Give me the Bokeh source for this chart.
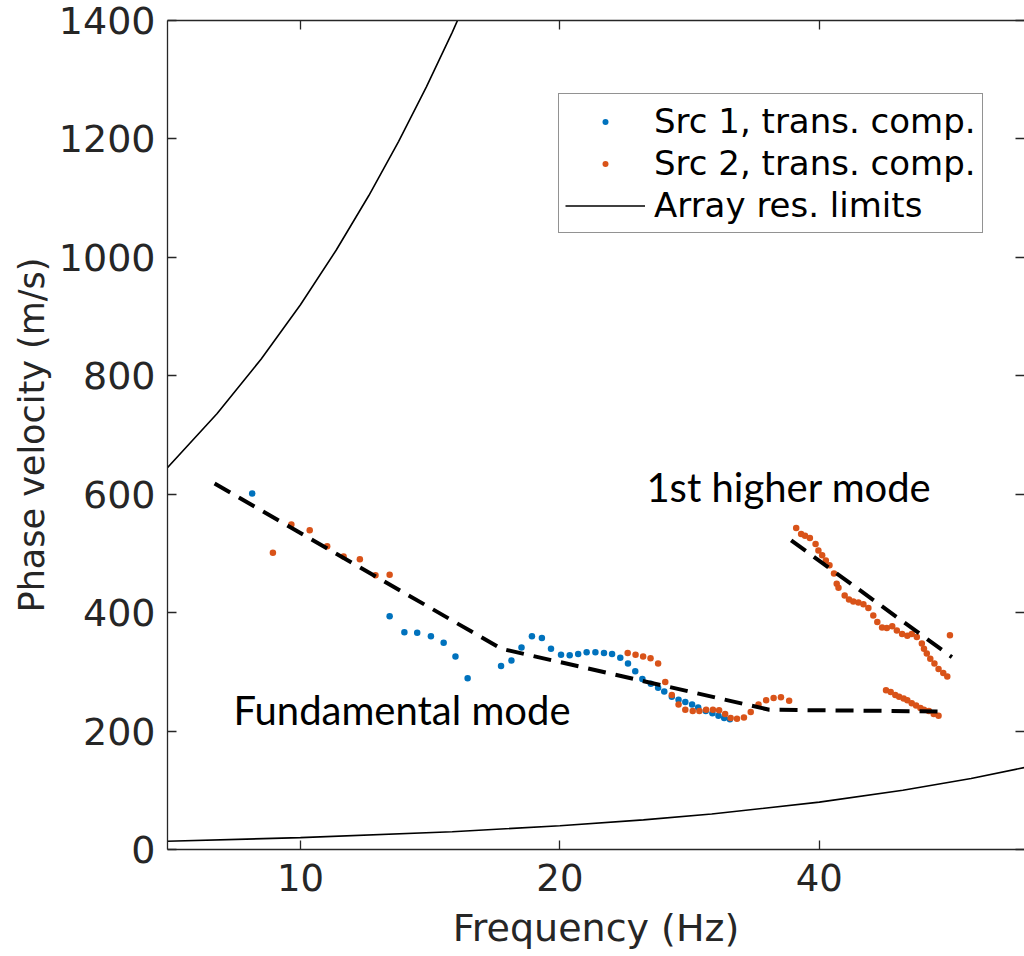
from bokeh.plotting import figure
from bokeh.models import FixedTicker, LinearAxis, Legend, LegendItem, PrintfTickFormatter, Label, CustomJSTickFormatter
from bokeh.embed import file_html
from bokeh.resources import INLINE

# ---------------- data ----------------
src1_f = [8.79, 12.69, 13.20, 13.66, 14.17, 14.66, 15.13, 15.63, 17.09, 17.57, 18.05, 18.56,
          19.06, 19.53, 20.06, 20.53, 21.00, 21.48, 21.99, 22.50, 22.99, 23.50, 23.99, 24.46,
          24.93, 25.50, 26.00, 26.43, 26.97, 27.46, 27.96, 28.47, 28.94, 29.53, 30.06, 30.55,
          31.02, 31.50]
src1_v = [601, 394, 367, 366, 360, 349, 326, 289, 310, 319, 341, 360,
          357, 339, 329, 328, 330, 333, 333, 332, 330, 324, 314, 301,
          288, 280, 273, 267, 258, 253, 249, 245, 240, 234, 230, 226,
          222, 220]

src2_f = [9.29, 9.76, 10.25, 10.74, 11.22, 11.72, 12.22, 12.69,
          23.97, 24.48, 24.98, 25.48, 26.00, 26.50, 26.97, 27.46, 27.96, 28.52, 29.03, 29.56,
          30.10, 30.60, 31.10, 31.56, 32.10, 32.70, 33.30, 34.00, 34.70, 35.40, 36.10, 36.90,
          37.6, 38.1, 38.5, 39.0, 39.6, 39.9, 40.3, 40.7, 41.1, 41.6, 41.9, 42.1, 42.8, 43.3,
          43.8, 44.4, 45.0, 45.6, 46.2, 46.7, 47.3, 47.9, 48.6, 49.2, 49.9, 50.6, 51.2, 51.9,
          52.6, 52.9, 53.3, 53.8, 54.4, 55.0, 55.7, 56.3, 56.7,
          47.8, 48.4, 49.0, 49.5, 50.1, 50.6, 51.2, 51.8, 52.4, 52.9, 53.6, 54.3, 55.0]
src2_v = [501, 549, 539, 512, 495, 490, 463, 464,
          332, 329, 326, 323, 314, 283, 261, 245, 236, 234, 234, 236,
          236, 235, 229, 222, 221, 223, 232, 245, 252, 256, 257, 251,
          543, 533, 530, 526, 516, 505, 497, 488, 480, 466, 449, 442, 429, 422,
          419, 417, 414, 408, 395, 384, 375, 374, 377, 370, 364, 361, 364, 359,
          348, 339, 331, 322, 314, 305, 298, 292, 362,
          269, 266, 261, 258, 255, 252, 247, 243, 239, 236, 234, 229, 226]

fund_f = [7.95, 17.1, 35.0, 56.3]
fund_v = [618, 339, 236, 233]
higher_f = [37.1, 57.0]
higher_v = [522, 325]

upper_f = [7.0, 8.0, 9.0, 10.0, 11.0, 12.0, 13.0, 14.0, 15.0, 16.0]
upper_v = [644, 736, 828, 920, 1012, 1104, 1196, 1288, 1380, 1472]
lower_f = [7, 10, 15, 20, 25, 30, 40, 50, 60, 70]
lower_v = [14, 20, 30, 40, 50, 60, 80, 100, 120, 140]

x_ticks = [10, 20, 40]
y_ticks = [0, 200, 400, 600, 800, 1000, 1200, 1400]

AX = "#262626"
BLUE = "#0072BD"
ORANGE = "#D95319"
FONT = "DejaVu Sans"

p = figure(width=1024, height=956, x_axis_type="log", x_range=(7.01, 69.2), y_range=(0, 1400),
           output_backend="svg", toolbar_location=None,
           min_border_left=167, min_border_right=0, min_border_top=20, min_border_bottom=107)
p.outline_line_color = None
p.grid.visible = False
p.background_fill_color = "white"
p.border_fill_color = "white"

def style_axis(ax, ticks):
    ax.ticker = FixedTicker(ticks=ticks, minor_ticks=[])
    ax.axis_line_color = AX
    ax.axis_line_width = 1.3
    ax.major_tick_line_color = AX
    ax.major_tick_line_width = 1.3
    ax.major_tick_in = 9
    ax.major_tick_out = 0
    ax.minor_tick_line_color = None
    ax.major_label_text_font = FONT
    ax.major_label_text_color = AX
    ax.axis_label_text_font = FONT
    ax.axis_label_text_color = AX
    ax.axis_label_text_font_style = "normal"

xa = p.xaxis[0]
style_axis(xa, x_ticks)
xa.formatter = PrintfTickFormatter(format="%d")
xa.major_label_text_font_size = "37px"
xa.major_label_standoff = 14
xa.axis_label = "Frequency (Hz)"
xa.axis_label_text_font_size = "38px"
xa.axis_label_standoff = 12

ya = p.yaxis[0]
style_axis(ya, y_ticks)
ya.major_label_text_font_size = "38px"
ya.major_label_standoff = 12
ya.axis_label = "Phase velocity (m/s)"
ya.axis_label_text_font_size = "35px"
ya.axis_label_standoff = 4

blank = CustomJSTickFormatter(code="return ''")

top = LinearAxis()
style_axis(top, x_ticks)
top.formatter = blank
top.major_label_standoff = 0
p.add_layout(top, "above")

right = LinearAxis()
style_axis(right, y_ticks)
right.formatter = CustomJSTickFormatter(code="return ''")
right.axis_line_color = None
right.major_label_standoff = 0
p.add_layout(right, "right")

r_up = p.line(upper_f, upper_v, line_color="black", line_width=1.6)
p.line(lower_f, lower_v, line_color="black", line_width=1.6)

r1 = p.scatter(src1_f, src1_v, size=6.5, fill_color=BLUE, line_color=None)
r2 = p.scatter(src2_f, src2_v, size=6.5, fill_color=ORANGE, line_color=None)

p.line(fund_f, fund_v, line_color="black", line_width=4, line_dash="18 10")
p.line(higher_f, higher_v, line_color="black", line_width=4, line_dash="18 10")

p.add_layout(Label(x=25.2, y=612, text="1st higher mode", text_font="Lato",
                   text_font_size="40px", text_color="black", text_baseline="alphabetic"))
p.add_layout(Label(x=8.36, y=235, text="Fundamental mode", text_font="Lato",
                   text_font_size="40px", text_color="black", text_baseline="alphabetic"))

legend = Legend(items=[LegendItem(label="Src 1, trans. comp.", renderers=[r1]),
                       LegendItem(label="Src 2, trans. comp.", renderers=[r2]),
                       LegendItem(label="Array res. limits", renderers=[r_up])],
                location=(391, 616), orientation="vertical")
legend.border_line_color = AX
legend.border_line_width = 1.3
legend.background_fill_color = "white"
legend.background_fill_alpha = 1
legend.label_text_font = FONT
legend.label_text_font_size = "34px"
legend.label_text_color = "black"
legend.glyph_width = 80
legend.glyph_height = 15
legend.label_height = 42
legend.label_standoff = 9
legend.padding = 6
legend.spacing = 0
legend.margin = 0
p.add_layout(legend, "center")

open("out.html", "w").write(file_html(p, INLINE))
